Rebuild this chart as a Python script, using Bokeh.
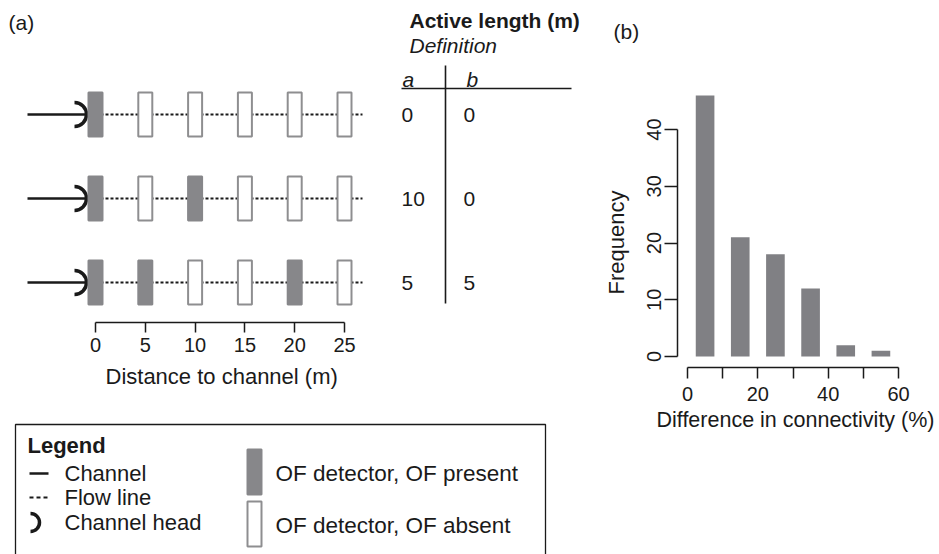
import math

from bokeh.plotting import figure
from bokeh.models import Range1d, LinearAxis, FixedTicker, Label, Title, ColumnDataSource
from bokeh.layouts import row, column
from bokeh.embed import file_html
from bokeh.resources import INLINE
from bokeh.core.properties import value

FONT = "Liberation Sans"
INK = "#1a1a1a"
GREY = "#87878a"
OUTLINE = "#8e8e90"
BAR = "#808084"

# ---------------- data ----------------
# overland-flow detectors along a flow line, distance from the channel head (m)
detector_distance = [0, 5, 10, 15, 20, 25]
scenario = [0, 1, 2]
of_present = [
    [1, 0, 0, 0, 0, 0],
    [1, 0, 1, 0, 0, 0],
    [1, 1, 0, 0, 1, 0],
]
active_length_a = [0, 10, 5]
active_length_b = [0, 0, 5]
distance_ticks = [0, 5, 10, 15, 20, 25]

# histogram of the connectivity difference between definitions a and b
diff_bin_mid = [5, 15, 25, 35, 45, 55]
diff_frequency = [46, 21, 18, 12, 2, 1]
freq_ticks = [0, 10, 20, 30, 40]
diff_ticks = [0, 10, 20, 30, 40, 50, 60]
diff_tick_overrides = {10: "", 30: "", 50: ""}


def txt(p, x, y, s, size="21px", style="normal", align="left", baseline="middle"):
    p.text(x=[x], y=[y], text=[s], text_font=value(FONT), text_font_size=size,
           text_font_style=style, text_align=align, text_baseline=baseline,
           text_color=INK)


def axis(ticks, bounds, tick_out, standoff, **kw):
    return LinearAxis(ticker=FixedTicker(ticks=ticks), bounds=bounds,
                      major_tick_out=tick_out, major_tick_in=0,
                      minor_tick_out=0, minor_tick_in=0,
                      major_label_standoff=standoff, major_label_text_font=FONT,
                      major_label_text_font_size="20px", major_label_text_color=INK,
                      axis_line_color=INK, major_tick_line_color=INK,
                      axis_line_width=1.5, major_tick_line_width=1.5, **kw)


def title(text, offset, standoff, size="22px"):
    return Title(text=text, align="left", offset=offset, standoff=standoff,
                 text_font=FONT, text_font_size=size, text_font_style="normal",
                 text_color=INK)


# ================= panel (a): schematic =================
A_W, A_H, A_FRAME_H = 580, 400, 322
M_PX = 9.96          # pixels per metre along the flow line
X_ORIGIN = 95        # pixel column of distance 0
ROW_PX, ROW_TOP = 84, 114


def ax(px):
    return (px - X_ORIGIN) / M_PX


def ay(py):
    return (py - ROW_TOP) / ROW_PX


pa = figure(width=A_W, height=A_H,
            x_range=Range1d(ax(0), ax(A_W)), y_range=Range1d(ay(A_FRAME_H), ay(0)),
            x_axis_type=None, y_axis_type=None, toolbar_location=None,
            output_backend="svg", min_border_left=0, min_border_right=0,
            min_border_top=0, min_border_bottom=A_H - A_FRAME_H,
            outline_line_color=None, background_fill_color="white")

flow_end = ax(362)
channel_start, head_x = ax(27), ax(74)

# flow lines
pa.segment(x0=[0] * 3, y0=scenario, x1=[flow_end] * 3, y1=scenario,
           line_color=INK, line_width=2, line_dash="3 2")
# channel and channel head
pa.segment(x0=[channel_start] * 3, y0=scenario, x1=[ax(86)] * 3, y1=scenario,
           line_color=INK, line_width=2.5)
pa.arc(x=[head_x] * 3, y=scenario, radius=12, radius_units="screen",
       start_angle=-math.pi / 2, end_angle=math.pi / 2,
       line_color=INK, line_width=3.5)

# detectors
dx, dy, dfill, dline = [], [], [], []
for r in scenario:
    for d, on in zip(detector_distance, of_present[r]):
        dx.append(d)
        dy.append(r)
        dfill.append(GREY if on else "white")
        dline.append(GREY if on else OUTLINE)
det = ColumnDataSource(dict(x=dx, y=dy, fill=dfill, line=dline))
pa.rect(x="x", y="y", width=14 / M_PX, height=44 / ROW_PX, source=det,
        fill_color="fill", line_color="line", line_width=2)

# active-length table
txt(pa, ax(409), ay(20), "Active length (m)", style="bold")
txt(pa, ax(409), ay(45), "Definition", style="italic")
txt(pa, ax(402), ay(79), "a", style="italic")
txt(pa, ax(466), ay(79), "b", style="italic")
pa.segment(x0=[ax(401)], y0=[ay(88)], x1=[ax(571)], y1=[ay(88)], line_color=INK, line_width=1.6)
pa.segment(x0=[ax(445)], y0=[ay(65)], x1=[ax(445)], y1=[ay(303)], line_color=INK, line_width=1.6)
for r in scenario:
    txt(pa, ax(401), r, str(active_length_a[r]))
    txt(pa, ax(463), r, str(active_length_b[r]))

pa.add_layout(Label(x=ax(8), y=ay(22), text="(a)", text_font=FONT, text_font_size="21px",
                    text_color=INK, text_baseline="middle"))

pa.add_layout(axis(distance_ticks, (0, 25), 10, 5), "below")
pa.add_layout(title("Distance to channel (m)", 105, 14), "below")

# ================= legend box =================
L_H = 554 - A_H
pl = figure(width=A_W, height=L_H, x_range=Range1d(0, A_W), y_range=Range1d(554, A_H),
            x_axis_type=None, y_axis_type=None, toolbar_location=None,
            output_backend="svg", min_border=0, outline_line_color=None)
pl.quad(left=[15], right=[545], top=[424], bottom=[600], fill_color=None,
        line_color=INK, line_width=1.3)
txt(pl, 27, 445, "Legend", size="22px", style="bold")
pl.segment(x0=[29], y0=[473], x1=[48], y1=[473], line_color=INK, line_width=2.5)
txt(pl, 64, 473, "Channel", size="22px")
pl.segment(x0=[29], y0=[497], x1=[48], y1=[497], line_color=INK, line_width=2, line_dash="4 3")
txt(pl, 64, 497, "Flow line", size="22px")
pl.arc(x=[30], y=[522], radius=9, radius_units="screen",
       start_angle=-math.pi / 2, end_angle=math.pi / 2, line_color=INK, line_width=3.5)
txt(pl, 64, 522, "Channel head", size="22px")
pl.quad(left=[247], right=[261], top=[449], bottom=[494], fill_color=GREY,
        line_color=GREY, line_width=2)
pl.quad(left=[247], right=[261], top=[501], bottom=[546], fill_color="white",
        line_color=OUTLINE, line_width=2)
txt(pl, 275, 473, "OF detector, OF present", size="22.5px")
txt(pl, 275, 525, "OF detector, OF absent", size="22.5px")

# ================= panel (b): histogram =================
B_W, B_H = 939 - A_W, 554
FRAME_L, FRAME_B, FRAME_T = 677, 367, 45   # frame edges on the page
X0_PX, Y0_PX = 687, 356                    # page position of x=0 and y=0
PXB = (898 - 687) / 60
PYB = (356 - 129) / 40


def bx(px):
    return (px - X0_PX) / PXB


def by(py):
    return (Y0_PX - py) / PYB


pb = figure(width=B_W, height=B_H,
            x_range=Range1d(bx(FRAME_L), bx(939)), y_range=Range1d(by(FRAME_B), by(FRAME_T)),
            x_axis_type=None, y_axis_type=None, toolbar_location=None,
            output_backend="svg", min_border_left=FRAME_L - A_W, min_border_right=0,
            min_border_top=FRAME_T, min_border_bottom=B_H - FRAME_B,
            outline_line_color=None)
pb.vbar(x=diff_bin_mid, top=diff_frequency, bottom=0, width=5.3,
        fill_color=BAR, line_color=None)

pb.add_layout(axis(freq_ticks, (0, 40), 13, 4, major_label_orientation="vertical"), "left")
pb.add_layout(axis(diff_ticks, (0, 60), 11, 8, major_label_overrides=diff_tick_overrides),
              "below")

pb.add_layout(title("Difference in connectivity (%)", 656 - FRAME_L, 5, size="21.5px"), "below")
pb.add_layout(title("Frequency", FRAME_B - 294, 30), "left")
pb.add_layout(title("(b)", 613 - FRAME_L, 5, size="21px"), "above")

layout = row(column(pa, pl), pb)
open("out.html", "w").write(file_html(layout, INLINE))
